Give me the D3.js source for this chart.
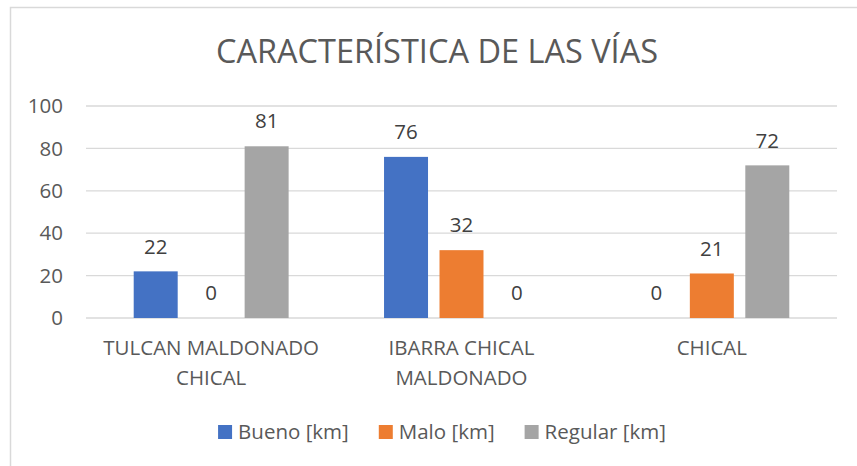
<!DOCTYPE html>
<html lang="es">
    <head>
        <meta charset="utf-8">
        <title>Característica de las vías</title>
        <script src="https://d3js.org/d3.v7.min.js"></script>
        <style type="text/css">
            body{
                margin: 0;
                background: #ffffff;
            }
            svg{
                width: 857px;
                height: 466px;
                display: block;
                font-family: "Open Sans", sans-serif;
            }
        </style>
    </head>
    <body>
        <svg></svg>
        <script type="text/javascript">

            // data
            const categories = [["TULCAN MALDONADO", "CHICAL"], ["IBARRA CHICAL", "MALDONADO"], ["CHICAL"]];
            const categoryKeys = ["TULCAN MALDONADO CHICAL", "IBARRA CHICAL MALDONADO", "CHICAL"];
            const seriesNames = ["Bueno [km]", "Malo [km]", "Regular [km]"];
            const bueno = [22, 76, 0];
            const malo = [0, 32, 21];
            const regular = [81, 0, 72];
            const yTicks = [0, 20, 40, 60, 80, 100];
            const seriesColors = ["#4472C4", "#ED7D31", "#A5A5A5"];

            const table = categoryKeys.map((c, i) => {
                return {"cat": c, "lines": categories[i], "values": [bueno[i], malo[i], regular[i]]};
            });

            const svg = d3.select("svg");

            // chart border (right and bottom edges fall outside the picture)
            svg.append("rect")
                .attr("x", 10.5).attr("y", 7.5)
                .attr("width", 900).attr("height", 500)
                .style("fill", "none")
                .style("stroke", "#D9D9D9")
                .style("stroke-width", 1.5);

            svg.append("text")
                .attr("x", 437).attr("y", 52)
                .attr("dy", "0.35em")
                .attr("text-anchor", "middle")
                .style("font-size", "32.5px")
                .style("fill", "#595959")
                .text("CARACTERÍSTICA DE LAS VÍAS");

            const y = d3.scaleLinear().domain([0, 100]).range([318, 106]);
            const x0 = d3.scaleBand().domain(categoryKeys).range([86, 837]);
            const x1 = d3.scaleBand().domain(seriesNames)
                        .range([0, x0.bandwidth()])
                        .paddingInner(0.207)
                        .paddingOuter(0.86);

            // gridlines
            svg.selectAll(".grid")
                .data(yTicks)
                .join("line")
                .attr("class", "grid")
                .attr("x1", 86).attr("x2", 837)
                .attr("y1", d=>y(d)).attr("y2", d=>y(d))
                .style("stroke", "#D9D9D9")
                .style("stroke-width", 1.3);

            svg.selectAll(".ytick")
                .data(yTicks)
                .join("text")
                .attr("class", "ytick")
                .attr("x", 63).attr("y", d=>y(d))
                .attr("dy", "0.35em")
                .attr("text-anchor", "end")
                .style("font-size", "20.5px")
                .style("fill", "#595959")
                .text(d=>d);

            const groups = svg.selectAll(".group")
                            .data(table)
                            .join("g")
                            .attr("class", "group")
                            .attr("transform", d=>`translate(${x0(d.cat)},0)`);

            const cells = d => d.values.map((v, i) => {return {"name": seriesNames[i], "value": v, "i": i}});

            groups.selectAll("rect")
                .data(cells)
                .join("rect")
                .attr("x", d=>x1(d.name))
                .attr("width", x1.bandwidth())
                .attr("y", d=>y(d.value))
                .attr("height", d=>y(0) - y(d.value))
                .style("fill", d=>seriesColors[d.i]);

            groups.selectAll(".label")
                .data(cells)
                .join("text")
                .attr("class", "label")
                .attr("x", d=>x1(d.name) + x1.bandwidth() / 2)
                .attr("y", d=>y(d.value) - 25)
                .attr("dy", "0.35em")
                .attr("text-anchor", "middle")
                .style("font-size", "20.5px")
                .style("fill", "#404040")
                .text(d=>d.value);

            // category labels, wrapped like the original
            groups.append("text")
                .attr("text-anchor", "middle")
                .style("font-size", "20.5px")
                .style("fill", "#595959")
                .selectAll("tspan")
                .data(d=>d.lines)
                .join("tspan")
                .attr("x", x0.bandwidth() / 2)
                .attr("y", (d, i)=>348 + i * 30)
                .attr("dy", "0.35em")
                .text(d=>d);

            // legend
            const legend = svg.append("g");
            const items = legend.selectAll("g")
                            .data(seriesNames)
                            .join("g");
            items.append("rect")
                .attr("y", 425)
                .attr("width", 14).attr("height", 14)
                .style("fill", (d, i)=>seriesColors[i]);
            items.append("text")
                .attr("x", 20).attr("y", 432)
                .attr("dy", "0.35em")
                .style("font-size", "20.5px")
                .style("fill", "#595959")
                .text(d=>d);

            let pos = 0;
            items.each(function() {
                const w = d3.select(this).select("text").node().getComputedTextLength();
                d3.select(this).attr("transform", `translate(${pos},0)`);
                pos += 20 + w + 30;
            });
            const legendWidth = pos - 30;
            legend.attr("transform", `translate(${442 - legendWidth / 2},0)`);

        </script>
    </body>
</html>
